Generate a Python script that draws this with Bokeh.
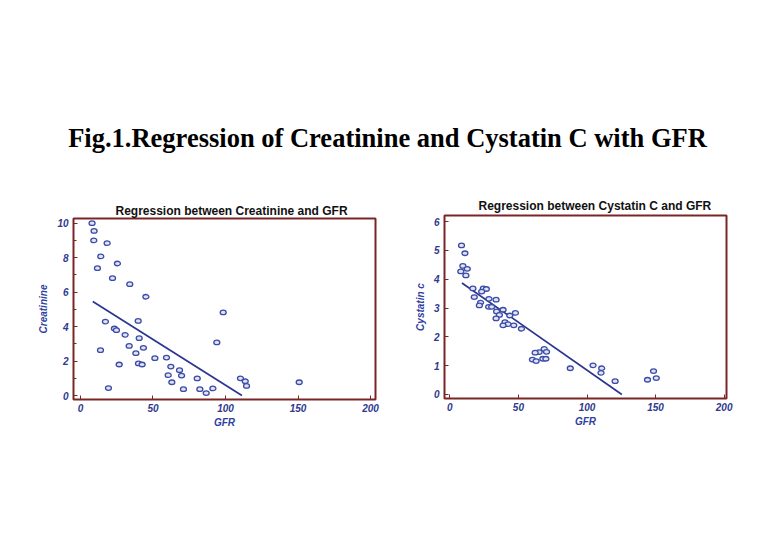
from bokeh.plotting import figure
from bokeh.layouts import column, row
from bokeh.models import Range1d, Label, FixedTicker, Title, Spacer
from bokeh.embed import file_html
from bokeh.resources import INLINE

# ---------------- data ----------------
creat_gfr = [8.0, 9.4, 9.2, 18.4, 14.0, 25.5, 11.7, 22.1, 34.0, 45.1, 98.4, 17.2, 39.8,
             23.4, 24.8, 30.8, 40.5, 94.0, 33.6, 43.4, 38.2, 13.8, 51.3, 59.3, 26.7, 40.0,
             42.5, 62.3, 68.3, 60.5, 69.7, 63.0, 80.5, 110.3, 113.6, 114.5, 150.8, 19.3,
             71.0, 82.3, 91.3, 86.7]
creat_val = [10.0, 9.55, 9.0, 8.84, 8.07, 7.66, 7.39, 6.81, 6.46, 5.73, 4.82, 4.29, 4.33,
             3.89, 3.79, 3.52, 3.33, 3.08, 2.88, 2.77, 2.46, 2.63, 2.17, 2.2, 1.8, 1.86,
             1.8, 1.68, 1.47, 1.18, 1.16, 0.77, 0.99, 1.0, 0.83, 0.56, 0.77, 0.43,
             0.37, 0.37, 0.41, 0.14]
creat_reg_x = [8.5, 111.3]
creat_reg_y = [5.45, 0.0]

cys_gfr = [8.5, 11.0, 9.5, 12.7, 8.0, 11.7, 16.8, 24.4, 26.6, 23.2, 17.8, 28.5, 33.7, 22.4,
           21.5, 28.3, 30.5, 38.8, 34.1, 47.8, 36.1, 43.7, 33.7, 40.2, 42.4, 38.8, 46.6,
           52.2, 68.8, 70.5, 65.1, 62.2, 60.2, 62.9, 67.8, 70.0, 87.8, 104.4, 110.7, 110.2,
           120.5, 148.5, 150.5, 144.1]
cys_val = [5.17, 4.9, 4.46, 4.36, 4.27, 4.13, 3.68, 3.68, 3.66, 3.57, 3.38, 3.32, 3.29, 3.19,
           3.09, 3.04, 3.04, 2.94, 2.88, 2.83, 2.76, 2.74, 2.64, 2.51, 2.44, 2.4, 2.4,
           2.28, 1.58, 1.48, 1.47, 1.45, 1.21, 1.16, 1.24, 1.24, 0.91, 1.01, 0.91, 0.75,
           0.46, 0.81, 0.57, 0.51]
cys_reg_x = [8.8, 125.4]
cys_reg_y = [3.87, 0.0]

x_ticks = [0, 50, 100, 150, 200]
creat_ticks = [0, 2, 4, 6, 8, 10]
cys_ticks = [0, 1, 2, 3, 4, 5, 6]

FRAME = "#7a2626"
BLUE = "#2e3a8c"
PT = "#3c4ca6"
SANS = "Liberation Sans"


def make_panel(title, ylabel, xs, ys, rx, ry, xr, yr, yticks, yminor, w, h,
               bl, br, bt, fh, toff, tstand):
    p = figure(width=w, height=h, output_backend="svg", toolbar_location=None,
               x_range=Range1d(*xr), y_range=Range1d(*yr),
               min_border_left=bl, min_border_right=br, min_border_top=bt,
               min_border_bottom=h - bt - fh)
    p.title = Title(text=title, align="left", offset=toff,
                    text_font=SANS, text_font_size="12px", text_font_style="bold",
                    text_color="#111111", standoff=tstand)
    p.outline_line_color = FRAME
    p.outline_line_width = 2
    p.xgrid.visible = False
    p.ygrid.visible = False
    for ax in (p.xaxis[0], p.yaxis[0]):
        ax.axis_line_color = None
        ax.major_tick_line_color = FRAME
        ax.minor_tick_line_color = FRAME
        ax.major_tick_in = 4
        ax.major_tick_out = 0
        ax.minor_tick_in = 3
        ax.minor_tick_out = 0
        ax.major_label_text_font = SANS
        ax.major_label_text_font_style = "bold italic"
        ax.major_label_text_font_size = "10px"
        ax.major_label_text_color = BLUE
        ax.axis_label_text_font = SANS
        ax.axis_label_text_font_style = "bold italic"
        ax.axis_label_text_font_size = "10px"
        ax.axis_label_text_color = "#3040a0"
    p.xaxis[0].ticker = FixedTicker(ticks=x_ticks)
    p.yaxis[0].ticker = FixedTicker(ticks=yticks, minor_ticks=yminor)
    p.xaxis[0].axis_label = "GFR"
    p.yaxis[0].axis_label = ylabel
    p.xaxis[0].major_label_standoff = 4
    p.yaxis[0].major_label_standoff = 5
    p.xaxis[0].axis_label_standoff = 2
    p.yaxis[0].axis_label_standoff = 5
    p.line(rx, ry, line_color="#2a3590", line_width=1.7)
    p.ellipse(xs, ys, width=6, height=4.5, width_units="screen", height_units="screen",
              line_color=PT, line_width=1.3, fill_color="#dfe3f5")
    return p


H = 300
TOP_H = 185
p1 = make_panel("Regression between Creatinine and  GFR", "Creatinine",
                creat_gfr, creat_val, creat_reg_x, creat_reg_y,
                (-4.8, 203.4), (-0.23, 10.27), creat_ticks, list(range(0, 11)),
                392, H, 65, 25, 33, 181, 42, 2)
p2 = make_panel("Regression between  Cystatin C and  GFR", "Cystatin c",
                cys_gfr, cys_val, cys_reg_x, cys_reg_y,
                (-3.9, 201.7), (-0.14, 6.21), cys_ticks, [],
                360, H, 44, 34, 30, 183, 34, 5)

top = figure(width=760, height=TOP_H, output_backend="svg", toolbar_location=None,
             x_range=Range1d(0, 760), y_range=Range1d(0, TOP_H),
             min_border=0)
top.axis.visible = False
top.grid.visible = False
top.outline_line_color = None
top.add_layout(Label(x=387, y=47.5, text="Fig.1.Regression of Creatinine and Cystatin C with GFR",
                     text_font="Liberation Serif", text_font_style="bold",
                     text_font_size="26.5px", text_align="center", text_baseline="middle",
                     text_color="#000000"))

layout = column(top, row(Spacer(width=8, height=H), p1, column(p2, spacing=0), spacing=0),
                spacing=0)
open("out.html", "w").write(file_html(layout, INLINE))
